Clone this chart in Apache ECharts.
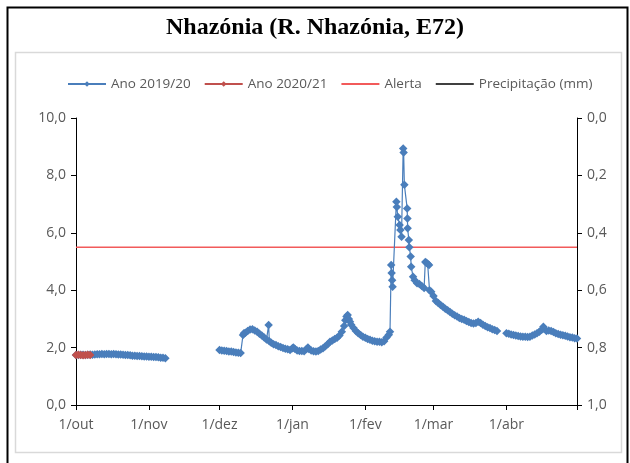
<!DOCTYPE html>
<html><head><meta charset="utf-8">
<script src="https://cdn.jsdelivr.net/npm/echarts@6/dist/echarts.min.js"></script>
<style>html,body{margin:0;padding:0;background:#fff}#c{width:630px;height:463px}</style>
</head><body><div id="c"></div>
<script>
// x = days since 1 October (2019/20 season, leap year)
var monthTicks = [0, 31, 61, 92, 123, 152, 183, 213];
var monthLabels = ['1/out', '1/nov', '1/dez', '1/jan', '1/fev', '1/mar', '1/abr'];
var alertLevel = 5.5;

var ano1920 = [
 [0,1.74],[1,1.74],[2,1.75],[3,1.75],[4,1.74],[5,1.75],[6,1.76],[7,1.75],[8,1.76],[9,1.77],
 [10,1.77],[11,1.78],[12,1.77],[13,1.78],[14,1.78],[15,1.77],[16,1.78],[17,1.77],[18,1.76],[19,1.76],
 [20,1.75],[21,1.74],[22,1.74],[23,1.73],[24,1.72],[25,1.72],[26,1.71],[27,1.71],[28,1.70],[29,1.69],
 [30,1.69],[31,1.68],[32,1.68],[33,1.67],[34,1.67],[35,1.66],[36,1.65],[37,1.65],[38,1.63],
 [50,'-'],
 [61,1.92],[62,1.90],[63,1.89],[64,1.88],[65,1.86],[66,1.86],[67,1.85],[68,1.83],[69,1.82],[70,1.81],
 [71,2.44],[71.4,2.50],[72,2.52],[73,2.58],[74,2.63],[75,2.64],[76,2.60],[77,2.55],[78,2.48],[79,2.42],
 [80,2.35],[81,2.28],[81.9,2.79],[82.2,2.22],[83,2.17],[84,2.12],[85,2.09],[86,2.05],[87,2.02],[88,1.99],
 [89,1.96],[90,1.94],[91,1.92],[92,1.98],[92.4,2.00],[93,1.96],[94,1.90],[95,1.88],[96,1.88],[97,1.87],
 [98,1.95],[98.6,2.00],[99,1.95],[100,1.90],[101,1.87],[102,1.86],[103,1.88],[104,1.93],[105,1.98],[106,2.05],
 [107,2.12],[108,2.20],[109,2.25],[110,2.30],[111,2.34],[112,2.42],[113,2.55],[114,2.75],[114.5,2.95],[115,3.08],
 [115.5,3.14],[116,3.00],[116.5,2.90],[117,2.80],[118,2.68],[119,2.58],[120,2.50],[121,2.44],[122,2.38],[123,2.34],
 [124,2.30],[125,2.27],[126,2.24],[127,2.22],[128,2.20],[129,2.20],[130,2.19],[131,2.22],[132,2.35],[133,2.45],
 [133.5,2.55],[134.0,4.88],[134.2,4.60],[134.4,4.35],[134.6,4.12],[136.2,7.08],[136.4,6.90],[136.8,6.56],[137.6,6.27],[137.9,6.10],
 [138.4,5.86],[139.1,8.94],[139.3,8.80],[139.6,7.67],[140.8,6.85],[140.9,6.50],[141.0,6.16],[141.5,5.75],[141.7,5.50],[142.3,5.17],
 [142.5,4.82],[143.3,4.47],[144,4.35],[145,4.24],[146,4.22],[147,4.15],[148,4.08],[148.5,4.98],[149.0,4.96],[149.5,4.92],
 [150.1,4.88],[150.3,4.00],[151,3.95],[152,3.80],[153,3.62],[154,3.55],[155,3.48],[156,3.42],[157,3.35],[158,3.30],
 [159,3.24],[160,3.18],[161,3.13],[162,3.08],[163,3.03],[164,3.00],[165,2.97],[166,2.93],[167,2.89],[168,2.86],
 [169,2.84],[170,2.86],[171,2.90],[172,2.86],[173,2.80],[174,2.75],[175,2.71],[176,2.68],[177,2.64],[178,2.61],
 [179,2.58],
 [181,'-'],
 [183,2.50],[184,2.48],[185,2.46],[186,2.44],[187,2.42],[188,2.40],[189,2.39],[190,2.38],[191,2.38],[192,2.37],
 [193,2.38],[194,2.42],[195,2.46],[196,2.50],[197,2.55],[198,2.62],[198.7,2.73],[199,2.66],[200,2.58],[201,2.60],
 [202,2.58],[203,2.54],[204,2.50],[205,2.47],[206,2.45],[207,2.43],[208,2.41],[209,2.39],[210,2.36],[211,2.35],
 [212,2.33],[213,2.32]
];
var ano2021 = [[0,1.74],[1,1.75],[2,1.74],[3,1.73],[4,1.74],[5,1.75],[6,1.74]];
var precipitacao = [];

var FONT = 'Open Sans';
var GRAY = '#595959';
function fmt(v){ return v.toFixed(1).replace('.', ','); }

var chart = echarts.init(document.getElementById('c'), null, {renderer:'canvas'});
chart.setOption({
  animation: false,
  backgroundColor: '#fff',
  graphic: [
    {type:'rect', shape:{x:7.5,y:7.5,width:620,height:470}, style:{fill:'none', stroke:'#000', lineWidth:2}, z:-1},
    {type:'rect', shape:{x:15.5,y:52.5,width:606,height:400}, style:{fill:'none', stroke:'#d9d9d9', lineWidth:1.5}, z:-1}
  ],
  title: {
    text: 'Nhazónia (R. Nhazónia, E72)',
    left: 'center', top: 11,
    textStyle: {fontFamily:'Liberation Serif', fontWeight:'bold', fontSize:24, color:'#000'}
  },
  legend: {
    top: 72, left: 62,
    itemWidth: 38, itemHeight: 7, itemGap: 13,
    textStyle: {fontFamily: FONT, fontSize: 13.5, color: GRAY},
    data: [
      'Ano 2019/20', 'Ano 2020/21',
      {name:'Alerta', itemStyle:{opacity:0}},
      {name:'Precipitação (mm)', itemStyle:{opacity:0}}
    ]
  },
  grid: {left: 76, right: 53, top: 118, bottom: 58},
  xAxis: {
    type: 'value', min: 0, max: 213,
    axisLine: {show:true, lineStyle:{color:'#000', width:1}},
    axisTick: {show:true, inside:false, length:5, lineStyle:{color:'#000'}, customValues: monthTicks},
    axisLabel: {
      color: GRAY, fontFamily: FONT, fontSize: 14, margin: 13,
      customValues: monthTicks.slice(0, monthLabels.length),
      formatter: function(v){ var i = monthTicks.indexOf(v); return i >= 0 && i < monthLabels.length ? monthLabels[i] : ''; }
    },
    splitLine: {show:false}
  },
  yAxis: [
    {
      type: 'value', min: 0, max: 10, interval: 2,
      axisLine: {show:true, lineStyle:{color:'#000', width:1}},
      axisTick: {show:true, length:5, lineStyle:{color:'#000'}},
      axisLabel: {color: GRAY, fontFamily: FONT, fontSize: 14, margin: 10, formatter: fmt},
      splitLine: {show:false}
    },
    {
      type: 'value', min: 0, max: 1, interval: 0.2, inverse: true, position: 'right',
      axisLine: {show:true, lineStyle:{color:'#000', width:1}},
      axisTick: {show:true, length:5, lineStyle:{color:'#000'}},
      axisLabel: {color: GRAY, fontFamily: FONT, fontSize: 14, margin: 10, formatter: fmt},
      splitLine: {show:false}
    }
  ],
  series: [
    {
      name: 'Ano 2019/20', type: 'line', data: ano1920,
      symbol: 'diamond', symbolSize: 8.5, showAllSymbol: true,
      itemStyle: {color: '#4a7ebb'},
      lineStyle: {color: '#4a7ebb', width: 1.2}, z: 3
    },
    {
      name: 'Ano 2020/21', type: 'line', data: ano2021,
      symbol: 'diamond', symbolSize: 8.5, showAllSymbol: true,
      itemStyle: {color: '#c0504d'},
      lineStyle: {color: '#c0504d', width: 1.2}, z: 4
    },
    {
      name: 'Alerta', type: 'line', data: [[0, alertLevel], [213, alertLevel]],
      symbol: 'none', itemStyle: {color: '#f25a5a'},
      lineStyle: {color: '#f25a5a', width: 1.5}, z: 2
    },
    {
      name: 'Precipitação (mm)', type: 'line', yAxisIndex: 1, data: precipitacao,
      symbol: 'none', itemStyle: {color: '#404040'},
      lineStyle: {color: '#404040', width: 1.5}
    }
  ]
});
</script></body></html>
